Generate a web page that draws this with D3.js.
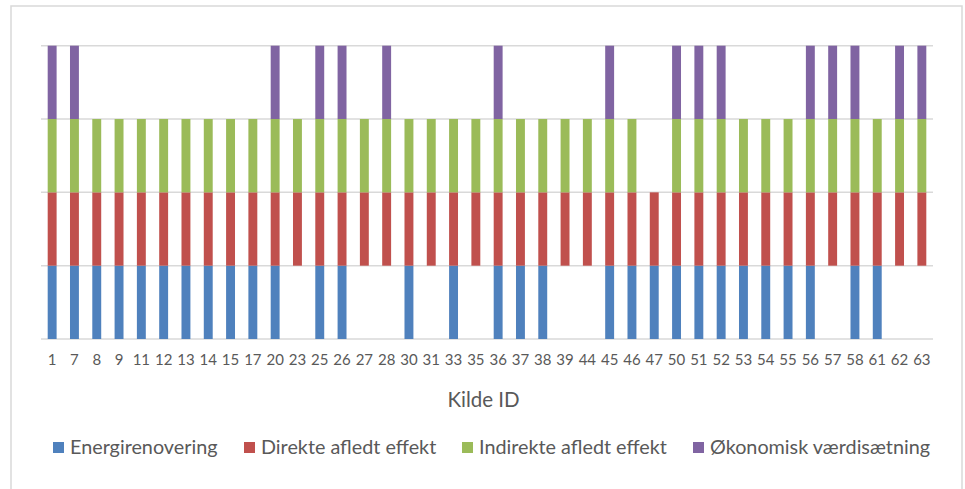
<!DOCTYPE html>
<html>
<head>
<meta charset="utf-8">
<script src="https://cdn.jsdelivr.net/npm/d3@7"></script>
<style>
  html, body { margin: 0; padding: 0; background: #ffffff; }
  svg { display: block; }
</style>
</head>
<body>
<svg id="chart" width="965" height="489"></svg>
<script>
const categories = ["1","7","8","9","11","12","13","14","15","17","20","23","25","26","27","28","30","31","33","35","36","37","38","39","44","45","46","47","50","51","52","53","54","55","56","57","58","61","62","63"];
const seriesNames = ["Energirenovering", "Direkte afledt effekt", "Indirekte afledt effekt", "Økonomisk værdisætning"];
const energirenovering = [1,1,1,1,1,1,1,1,1,1, 1,0,1,1,0,0,1,0,1,0, 1,1,1,0,0,1,1,1,1,1, 1,1,1,1,1,0,1,1,0,0];
const direkteAfledt   = [1,1,1,1,1,1,1,1,1,1, 1,1,1,1,1,1,1,1,1,1, 1,1,1,1,1,1,1,1,1,1, 1,1,1,1,1,1,1,1,1,1];
const indirekteAfledt = [1,1,1,1,1,1,1,1,1,1, 1,1,1,1,1,1,1,1,1,1, 1,1,1,1,1,1,1,0,1,1, 1,1,1,1,1,1,1,1,1,1];
const okonomisk       = [1,1,0,0,0,0,0,0,0,0, 1,0,1,1,0,1,0,0,0,0, 1,0,0,0,0,1,0,0,1,1, 1,0,0,0,1,1,1,0,1,1];
const yTicks = [0, 1, 2, 3, 4];
const colors = ["#4f81bd", "#c0504d", "#9bbb59", "#8064a2"];
const xTitle = "Kilde ID";

const seriesValues = [energirenovering, direkteAfledt, indirekteAfledt, okonomisk];

const svg = d3.select("#chart");
const font = "Lato, 'Open Sans', sans-serif";
const textColor = "#595959";

// outer frame
svg.append("rect")
  .attr("x", 11).attr("y", 6)
  .attr("width", 951).attr("height", 520)
  .attr("fill", "#ffffff")
  .attr("stroke", "#d9d9d9").attr("stroke-width", 1.5);

const plotLeft = 41, plotRight = 933, plotTop = 45.7, plotBottom = 339;

const x = d3.scaleBand().domain(categories).range([plotLeft, plotRight]).paddingInner(0.6).paddingOuter(0.3);
const y = d3.scaleLinear().domain([0, 4]).range([plotBottom, plotTop]);

// gridlines
svg.append("g").selectAll("line").data(yTicks).join("line")
  .attr("x1", plotLeft).attr("x2", plotRight)
  .attr("y1", d => y(d)).attr("y2", d => y(d))
  .attr("stroke", "#d9d9d9").attr("stroke-width", 1.5);

// bars: each series occupies its own level in the stack
const rects = [];
seriesValues.forEach((vals, si) => {
  vals.forEach((v, ci) => {
    if (v > 0) rects.push({ cat: categories[ci], y0: si, y1: si + v, color: colors[si] });
  });
});
svg.append("g").selectAll("rect").data(rects).join("rect")
  .attr("x", d => x(d.cat))
  .attr("width", x.bandwidth())
  .attr("y", d => y(d.y1))
  .attr("height", d => y(d.y0) - y(d.y1))
  .attr("fill", d => d.color);

// x axis labels
const xAxis = d3.axisBottom(x).tickSize(0).tickPadding(0);
const gx = svg.append("g").attr("transform", `translate(0,${plotBottom})`).call(xAxis);
gx.select(".domain").remove();
gx.selectAll("text")
  .attr("y", 26).attr("dy", null)
  .attr("fill", textColor)
  .style("font-family", font).style("font-size", "15px");

// axis title
svg.append("text")
  .attr("x", 483.5).attr("y", 407)
  .attr("text-anchor", "middle")
  .attr("fill", textColor)
  .style("font-family", font).style("font-size", "20.5px")
  .text(xTitle);

// legend
const legendX = [53, 244, 462, 693];
const lg = svg.append("g").selectAll("g").data(seriesNames).join("g")
  .attr("transform", (d, i) => `translate(${legendX[i]},0)`);
lg.append("rect").attr("x", 0).attr("y", 442).attr("width", 11).attr("height", 11)
  .attr("fill", (d, i) => colors[i]);
lg.append("text").attr("x", 17).attr("y", 454)
  .attr("fill", textColor)
  .style("font-family", font).style("font-size", "19.8px")
  .text(d => d);
</script>
</body>
</html>
